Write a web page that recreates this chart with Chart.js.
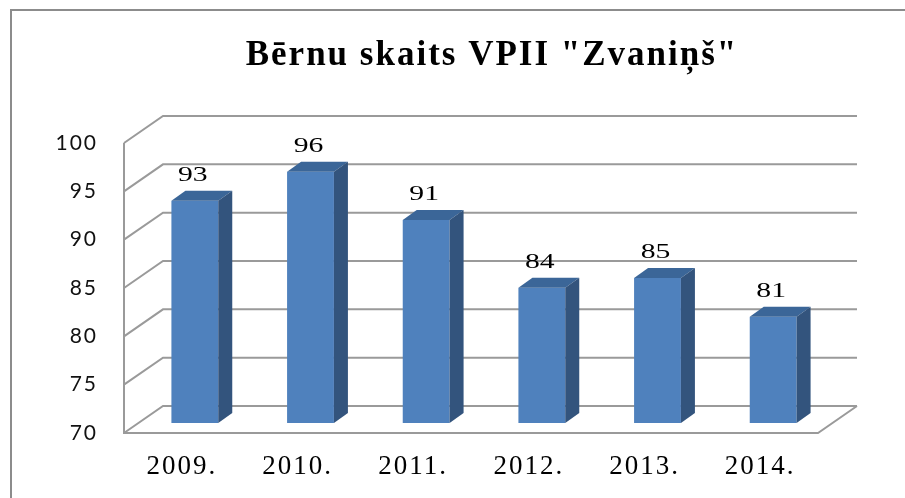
<!DOCTYPE html>
<html>
<head>
<meta charset="utf-8">
<script src="https://cdn.jsdelivr.net/npm/chart.js@4.4.1/dist/chart.umd.min.js"></script>
<style>
  html, body { margin: 0; padding: 0; background: #fff; }
  #wrap { width: 905px; height: 498px; }
</style>
</head>
<body>
<div id="wrap"><canvas id="chart" width="905" height="498"></canvas></div>
<script>
// values
const years = ['2009.', '2010.', '2011.', '2012.', '2013.', '2014.'];
const children = [93, 96, 91, 84, 85, 81];
const yTicks = [70, 75, 80, 85, 90, 95, 100];

// 3D look: back wall offset and bar offset/depth
const WALL_DX = 39, WALL_DY = -27;
const BAR_DX = 13, BAR_DY = -10;
const DEPTH_DX = 14, DEPTH_DY = -10;
const lineColor = '#9a9a9a';

// frame + back wall, floor and side wall
const walls = {
  id: 'walls',
  beforeDraw(chart) {
    const ctx = chart.ctx;
    // the original text is drawn wide, so space the letters a bit
    ctx.letterSpacing = '2px';
    ctx.save();
    ctx.strokeStyle = '#8c8c8c';
    ctx.lineWidth = 2;
    ctx.beginPath();
    ctx.moveTo(11, 498);
    ctx.lineTo(11, 10);
    ctx.lineTo(905, 10);
    ctx.stroke();
    ctx.restore();
  },
  beforeDatasetsDraw(chart) {
    const ctx = chart.ctx;
    const {left, right, top, bottom} = chart.chartArea;
    const y = chart.scales.y;
    ctx.save();
    ctx.strokeStyle = lineColor;
    ctx.lineWidth = 2;
    ctx.beginPath();
    yTicks.forEach(v => {
      const py = y.getPixelForValue(v);
      ctx.moveTo(left, py);
      ctx.lineTo(left + WALL_DX, py + WALL_DY);
      ctx.lineTo(right + WALL_DX, py + WALL_DY);
    });
    ctx.moveTo(left, top);
    ctx.lineTo(left, bottom);
    ctx.lineTo(right, bottom);
    ctx.lineTo(right + WALL_DX, bottom + WALL_DY);
    ctx.stroke();
    ctx.restore();
    // move bars back into the box
    ctx.save();
    ctx.translate(BAR_DX, BAR_DY);
  },
  afterDatasetsDraw(chart) {
    const ctx = chart.ctx;
    const meta = chart.getDatasetMeta(0);
    meta.data.forEach(bar => {
      const l = bar.x - bar.width / 2, r = bar.x + bar.width / 2;
      // top face
      ctx.fillStyle = '#3b6698';
      ctx.beginPath();
      ctx.moveTo(l, bar.y);
      ctx.lineTo(l + DEPTH_DX, bar.y + DEPTH_DY);
      ctx.lineTo(r + DEPTH_DX, bar.y + DEPTH_DY);
      ctx.lineTo(r, bar.y);
      ctx.closePath();
      ctx.fill();
      // side face
      ctx.fillStyle = '#33547d';
      ctx.beginPath();
      ctx.moveTo(r, bar.y);
      ctx.lineTo(r + DEPTH_DX, bar.y + DEPTH_DY);
      ctx.lineTo(r + DEPTH_DX, bar.base + DEPTH_DY);
      ctx.lineTo(r, bar.base);
      ctx.closePath();
      ctx.fill();
    });
    ctx.restore();
    // value labels, stretched sideways like the original
    ctx.save();
    ctx.letterSpacing = '0px';
    ctx.font = '22px "Liberation Serif", "Times New Roman", serif';
    ctx.fillStyle = '#000';
    ctx.textAlign = 'center';
    ctx.textBaseline = 'alphabetic';
    meta.data.forEach((bar, i) => {
      ctx.save();
      ctx.translate(bar.x + BAR_DX - 2, bar.y + BAR_DY + DEPTH_DY - 10);
      ctx.scale(1.35, 1);
      ctx.fillText(String(children[i]), 0, 0);
      ctx.restore();
    });
    ctx.restore();
  },
  afterDraw(chart) {
    chart.ctx.letterSpacing = '0px';
  }
};

const ctx = document.getElementById('chart').getContext('2d');
new Chart(ctx, {
  type: 'bar',
  data: {
    labels: years,
    datasets: [{
      data: children,
      base: 70,
      backgroundColor: '#4f81bd',
      borderWidth: 0,
      barPercentage: 0.405,
      categoryPercentage: 1
    }]
  },
  options: {
    responsive: false,
    animation: false,
    // title sits right of centre in the original, hence the uneven padding
    layout: { padding: { top: 0, left: 47, right: -32, bottom: 0 } },
    plugins: {
      legend: { display: false },
      tooltip: { enabled: false },
      title: {
        display: true,
        text: 'Bērnu skaits VPII "Zvaniņš"',
        color: '#000',
        font: { family: '"Liberation Serif", "Times New Roman", serif', size: 35, weight: 'bold', lineHeight: 1.2 },
        padding: { top: 35, bottom: 66 }
      }
    },
    scales: {
      x: {
        grid: { display: false, drawTicks: false },
        border: { display: false },
        ticks: {
          color: '#000',
          padding: 18,
          font: { family: '"Liberation Serif", "Times New Roman", serif', size: 27 }
        },
        afterFit: s => { s.height = 65; }
      },
      y: {
        min: 70,
        max: 100,
        grid: { display: false, drawTicks: false },
        border: { display: false },
        ticks: {
          stepSize: 5,
          color: '#111',
          padding: 26,
          font: { family: 'Lato, "Noto Sans", sans-serif', size: 21 }
        },
        afterFit: s => { s.width = 77; }
      },
      // empty axis that keeps the room right of the box
      yRight: {
        position: 'right',
        grid: { display: false, drawTicks: false },
        border: { display: false },
        ticks: { display: false },
        afterFit: s => { s.width = 119; }
      }
    }
  },
  plugins: [walls]
});
</script>
</body>
</html>
